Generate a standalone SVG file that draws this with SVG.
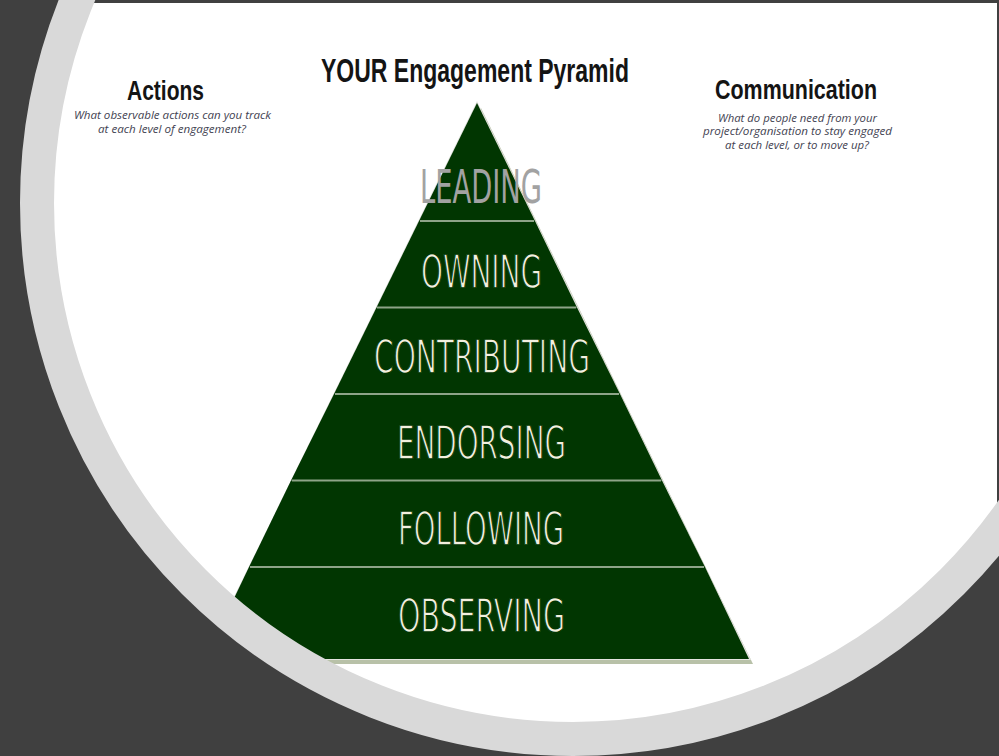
<svg xmlns="http://www.w3.org/2000/svg" width="999" height="756" viewBox="0 0 999 756">
  <style>
    .lvl { font-family: "Liberation Sans Narrow", "DejaVu Sans Condensed", "Liberation Sans", sans-serif; font-size: 46px; fill: #f3f0df; stroke: #013601; stroke-width: 1.3px; }
    .head { font-family: "Liberation Sans Narrow", "Liberation Sans", sans-serif; font-weight: bold; fill: #141414; }
    .sub { font-family: "Open Sans", "Liberation Sans", sans-serif; font-style: italic; font-size: 10.5px; fill: #434352; }
    .band { fill: #013601; }
    .div { stroke: #8ea488; stroke-width: 2; }
  </style>
  <defs>
    <clipPath id="inner">
      <circle cx="573" cy="203" r="545"/>
    </clipPath>
    <clipPath id="page">
      <rect x="0" y="3" width="997" height="760"/>
    </clipPath>
  </defs>
  <rect x="0" y="0" width="999" height="756" fill="#404040"/>
  <g clip-path="url(#inner)">
    <g clip-path="url(#page)">
      <rect x="0" y="0" width="999" height="756" fill="#ffffff"/>
      <g id="pyramid-shadow">
        <polygon points="481,108 209,664 753,664" fill="#b8c1a8"/>
        <polygon points="477,101 203,660 751,660" fill="#e4e4e0"/>
      </g>
      <g id="level-leading">
        <polygon class="band" points="477,103 419,221 535,221"/>
      </g>
      <g id="level-owning">
        <polygon class="band" points="419,221 535,221 577,307.5 376.5,307.5"/>
        <text class="lvl" x="421" y="288" textLength="121" lengthAdjust="spacingAndGlyphs">OWNING</text>
      </g>
      <g id="level-contributing">
        <polygon class="band" points="376.5,307.5 577,307.5 620,394 334,394"/>
        <text class="lvl" x="374" y="373" textLength="216" lengthAdjust="spacingAndGlyphs">CONTRIBUTING</text>
      </g>
      <g id="level-endorsing">
        <polygon class="band" points="334,394 620,394 662,480.5 291,480.5"/>
        <text class="lvl" x="397" y="459" textLength="169" lengthAdjust="spacingAndGlyphs">ENDORSING</text>
      </g>
      <g id="level-following">
        <polygon class="band" points="291,480.5 662,480.5 705,567 249,567"/>
        <text class="lvl" x="398" y="545" textLength="166" lengthAdjust="spacingAndGlyphs">FOLLOWING</text>
      </g>
      <g id="level-observing">
        <polygon class="band" points="249,567 705,567 749,659 205,659"/>
        <text class="lvl" x="398" y="632" textLength="167" lengthAdjust="spacingAndGlyphs">OBSERVING</text>
      </g>
      <g id="connectors">
        <line class="div" x1="420" y1="221" x2="534" y2="221"/>
        <line class="div" x1="377" y1="307.5" x2="576" y2="307.5"/>
        <line class="div" x1="335" y1="394" x2="619" y2="394"/>
        <line class="div" x1="292" y1="480.5" x2="661" y2="480.5"/>
        <line class="div" x1="250" y1="567" x2="704" y2="567"/>
      </g>
      <g id="leading-label">
        <text class="lvl" x="420" y="203" textLength="122" lengthAdjust="spacingAndGlyphs" style="fill:#a2a2a2;stroke:none">LEADING</text>
      </g>
      <g id="title">
        <text class="head" transform="translate(321 82) scale(0.7 1)" x="0" y="0" font-size="33" textLength="440" lengthAdjust="spacingAndGlyphs">YOUR Engagement Pyramid</text>
      </g>
      <g id="actions">
        <text class="head" x="127" y="100" font-size="28" textLength="77" lengthAdjust="spacingAndGlyphs">Actions</text>
        <text class="sub" x="74" y="119" textLength="197" lengthAdjust="spacingAndGlyphs">What observable actions can you track</text>
        <text class="sub" x="98" y="133" textLength="148" lengthAdjust="spacingAndGlyphs">at each level of engagement?</text>
      </g>
      <g id="communication">
        <text class="head" x="715" y="99" font-size="27" textLength="162" lengthAdjust="spacingAndGlyphs">Communication</text>
        <text class="sub" x="718" y="122" textLength="159" lengthAdjust="spacingAndGlyphs">What do people need from your</text>
        <text class="sub" x="703" y="135" textLength="189" lengthAdjust="spacingAndGlyphs">project/organisation to stay engaged</text>
        <text class="sub" x="725" y="149" textLength="144" lengthAdjust="spacingAndGlyphs">at each level, or to move up?</text>
      </g>
    </g>
  </g>
  <circle cx="573" cy="203" r="536" fill="none" stroke="#d9d9d9" stroke-width="34"/>
</svg>
